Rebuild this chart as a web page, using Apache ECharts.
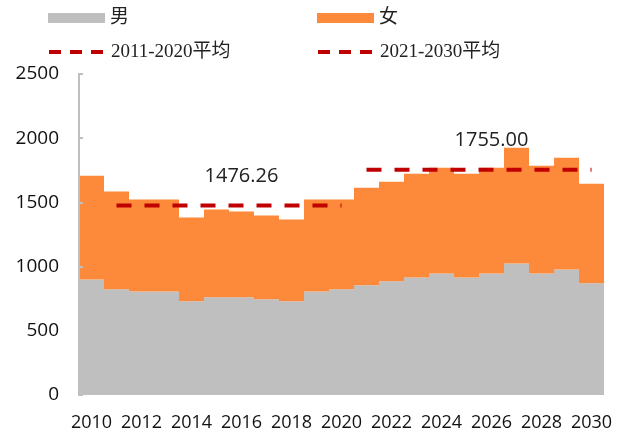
<!DOCTYPE html>
<html>
<head>
<meta charset="utf-8">
<script src="https://cdn.jsdelivr.net/npm/echarts@6/dist/echarts.min.js"></script>
<style>
  html, body { margin: 0; padding: 0; background: #fff; }
  #chart { width: 625px; height: 435px; }
</style>
</head>
<body>
<div id="chart"></div>
<script>
// 数据
const years = ['2010', '2011', '2012', '2013', '2014', '2015', '2016', '2017', '2018', '2019', '2020',
  '2021', '2022', '2023', '2024', '2025', '2026', '2027', '2028', '2029', '2030']
const male = [900, 823, 807, 807, 730, 761, 761, 745, 730, 807, 823, 854, 885, 916, 947, 916, 947, 1025, 947, 978, 870]
const female = [808, 761, 715, 715, 652, 683, 668, 653, 636, 715, 699, 761, 776, 808, 823, 808, 823, 900, 839, 870, 776]
const avg1 = [null, 1476.26, 1476.26, 1476.26, 1476.26, 1476.26, 1476.26, 1476.26, 1476.26, 1476.26, 1476.26,
  null, null, null, null, null, null, null, null, null, null]
const avg2 = [null, null, null, null, null, null, null, null, null, null, null,
  1755.00, 1755.00, 1755.00, 1755.00, 1755.00, 1755.00, 1755.00, 1755.00, 1755.00, 1755.00]
const avg1Label = 6   // 2016
const avg2Label = 16  // 2026
const yTicks = [0, 500, 1000, 1500, 2000, 2500]

const numFont = "'Open Sans', 'Noto Sans CJK SC', sans-serif"
const legendFont = "'Liberation Serif', 'Noto Sans CJK SC', serif"

// 只在指定位置显示数值标签
const withLabel = (arr, idx) => arr.map((v, i) => i === idx
  ? { value: v, label: { show: true, formatter: () => v.toFixed(2) } }
  : v)

const legendText = { fontFamily: legendFont, fontSize: 19, color: '#222' }
const mkLegend = (name, left, top, extra) => Object.assign({
  data: [name], left: left, top: top, padding: 0,
  itemWidth: 57, itemHeight: 10, itemGap: 0,
  textStyle: legendText, selectedMode: false
}, extra || {})
const dashLegend = {
  lineStyle: { type: [12, 9], width: 4, color: '#C00000' },
  itemStyle: { opacity: 0 }
}

const avgLine = (name, data) => ({
  name: name, type: 'line', data: data,
  symbol: 'circle', symbolSize: 0.1, showSymbol: true, z: 4,
  lineStyle: { color: '#C00000', width: 4, type: [15, 13] },
  itemStyle: { color: '#C00000' },
  label: { position: 'top', distance: 19, color: '#222', fontFamily: numFont, fontSize: 20 }
})

const chart = echarts.init(document.getElementById('chart'))
chart.setOption({
  animation: false,
  grid: { left: 79, right: 21, top: 74, bottom: 40 },
  legend: [
    mkLegend('男', 48, 8.5, { icon: 'rect' }),
    mkLegend('女', 317, 8.5, { icon: 'rect' }),
    mkLegend('2011-2020平均', 47, 42.5, dashLegend),
    mkLegend('2021-2030平均', 316, 42.5, dashLegend)
  ],
  xAxis: {
    type: 'category',
    data: years,
    axisLine: { show: false },
    axisTick: { show: false },
    axisLabel: { interval: 1, color: '#111', fontFamily: numFont, fontSize: 18, margin: 19 }
  },
  yAxis: {
    type: 'value',
    min: yTicks[0],
    max: yTicks[yTicks.length - 1],
    interval: 500,
    z: 5,
    axisLine: { show: true, lineStyle: { color: '#BFBFBF', width: 2 } },
    axisTick: { show: true, inside: true, length: 4, lineStyle: { color: '#BFBFBF', width: 2 } },
    splitLine: { show: false },
    axisLabel: { color: '#111', fontFamily: numFont, fontSize: 19, margin: 20, formatter: v => String(v) }
  },
  series: [
    {
      name: '男', type: 'bar', stack: 'total', data: male,
      barCategoryGap: '0%', itemStyle: { color: '#BFBFBF' }
    },
    {
      name: '女', type: 'bar', stack: 'total', data: female,
      barCategoryGap: '0%', itemStyle: { color: '#FD8A3A' }
    },
    avgLine('2011-2020平均', withLabel(avg1, avg1Label)),
    avgLine('2021-2030平均', withLabel(avg2, avg2Label))
  ]
})
</script>
</body>
</html>
